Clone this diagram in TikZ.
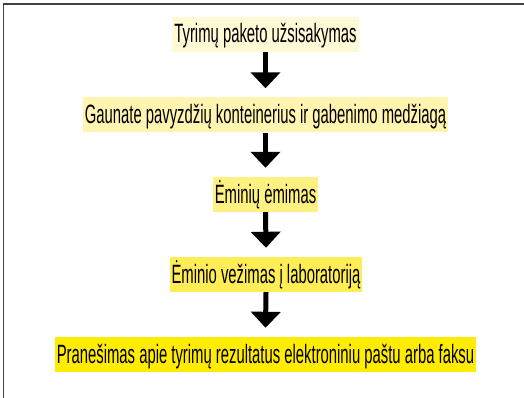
\documentclass[tikz,border=0pt]{standalone}
\usepackage{fontspec}
\setmainfont[FakeStretch=0.56]{Liberation Sans}
\usetikzlibrary{arrows.meta}
\definecolor{c1}{RGB}{255,249,214}
\definecolor{c2}{RGB}{255,244,176}
\definecolor{c3}{RGB}{255,240,130}
\definecolor{c4}{RGB}{255,237,85}
\definecolor{c5}{RGB}{255,236,0}
\tikzset{
  stepbox/.style={inner xsep=2pt, inner ysep=0pt, text height=25pt, text depth=8pt, minimum height=35pt, font=\fontsize{26.5}{30}\selectfont, text=black},
  flowarrow/.style={line width=5pt, -{Triangle[width=29pt,length=16pt]}},
  frame/.style={line width=1.3pt, black!75}
}
\begin{document}
\begin{tikzpicture}[x=1pt,y=-1pt]
\useasboundingbox (0,0) rectangle (524,398);
\draw[frame] (3.5,398) -- (3.5,4) -- (524,4);
\node[stepbox, fill=c1] (b1) at (265.5,34.5) {Tyrimų paketo užsisakymas};
\node[stepbox, fill=c2] (b2) at (265.5,115) {Gaunate pavyzdžių konteinerius ir gabenimo medžiagą};
\node[stepbox, fill=c3] (b3) at (265.5,194.5) {Ėminių ėmimas};
\node[stepbox, fill=c4] (b4) at (266,274.5) {Ėminio vežimas į laboratoriją};
\node[stepbox, fill=c5] (b5) at (265.5,354.5) {Pranešimas apie tyrimų rezultatus elektroniniu paštu arba faksu};
\draw[flowarrow] (b1.south) -- ([yshift=9pt]b2.north);
\draw[flowarrow] (b2.south) -- ([yshift=9pt]b3.north);
\draw[flowarrow] (b3.south) -- ([yshift=9pt]b4.north);
\draw[flowarrow] (b4.south) -- ([yshift=9pt]b5.north);
\end{tikzpicture}
\end{document}
